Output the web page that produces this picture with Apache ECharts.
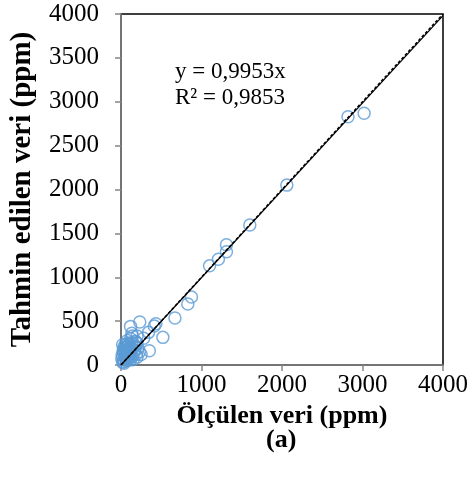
<!DOCTYPE html>
<html lang="tr">
<head>
<meta charset="utf-8">
<script src="https://cdn.jsdelivr.net/npm/echarts@6/dist/echarts.min.js"></script>
<style>
  html, body { margin: 0; padding: 0; background: #fff; }
</style>
</head>
<body>
<div id="main" style="width:473px;height:486px"></div>
<script type="text/javascript">
// ölçülen (x) ve tahmin edilen (y) değerler, ppm
var measured = [20, 30, 40, 50, 60, 70, 80, 90, 100, 110, 120, 130, 140, 150, 160, 170, 180, 190, 200, 210,
    230, 250, 60, 40, 90, 120, 140, 80, 100, 160, 180, 60, 30, 120, 200,
    10, 15, 25, 35, 45, 55, 65, 75, 85, 95, 105, 115, 20, 50, 70, 90, 110, 130,
    119, 135, 200, 233, 282, 180, 343, 413, 433, 352, 520, 670, 830, 875,
    1100, 1210, 1310, 1310, 1600, 2060, 2820, 3020];
var predicted = [30, 60, 20, 90, 120, 50, 150, 180, 80, 200, 140, 250, 100, 60, 220, 170, 270, 120, 90, 190,
    150, 120, 200, 170, 250, 300, 330, 280, 230, 130, 210, 100, 140, 60, 250,
    70, 110, 160, 200, 40, 170, 80, 210, 110, 140, 170, 90, 230, 230, 130, 60, 120, 190,
    440, 361, 330, 490, 304, 266, 372, 444, 471, 163, 315, 535, 695, 775,
    1130, 1205, 1290, 1370, 1595, 2050, 2830, 2868];
var slope = 0.9953;
var xTicks = [0, 1000, 2000, 3000, 4000];
var yTicks = [0, 500, 1000, 1500, 2000, 2500, 3000, 3500, 4000];

var points = [];
for (var i = 0; i < measured.length; i++) {
    points.push([measured[i], predicted[i]]);
}

var serif = '"Liberation Serif", "Times New Roman", serif';
var plain = function (v) { return String(v); };
var myChart = echarts.init(document.getElementById("main"));
var option = {
    animation: false,
    grid: {
        left: 117, right: 30, top: 14, bottom: 121,
        show: true, borderColor: '#000', borderWidth: 1.5
    },
    xAxis: {
        type: 'value',
        min: xTicks[0], max: xTicks[xTicks.length - 1], interval: 1000,
        splitLine: { show: false },
        axisLine: { show: true, lineStyle: { color: '#868686', width: 1.5 } },
        axisTick: { show: true, inside: false, length: 6, lineStyle: { color: '#868686', width: 1.5 } },
        axisLabel: { color: '#000', fontFamily: serif, fontSize: 25, margin: 8, formatter: plain },
        name: 'Ölçülen veri (ppm)',
        nameLocation: 'middle',
        nameGap: 32,
        nameTextStyle: { color: '#000', fontFamily: serif, fontSize: 26, fontWeight: 'bold' }
    },
    yAxis: {
        type: 'value',
        min: yTicks[0], max: yTicks[yTicks.length - 1], interval: 500,
        splitLine: { show: false },
        axisLine: { show: true, lineStyle: { color: '#868686', width: 1.5 } },
        axisTick: { show: true, inside: false, length: 6, lineStyle: { color: '#868686', width: 1.5 } },
        axisLabel: { color: '#000', fontFamily: serif, fontSize: 25, margin: 22, formatter: plain },
        name: 'Tahmin edilen veri (ppm)',
        nameLocation: 'middle',
        nameGap: 84,
        nameTextStyle: { color: '#000', fontFamily: serif, fontSize: 29, fontWeight: 'bold' }
    },
    graphic: [
        { type: 'text', left: 175, top: 60, style: { text: 'y = 0,9953x', font: '23px ' + serif, fill: '#000' } },
        { type: 'text', left: 175, top: 86, style: { text: 'R² = 0,9853', font: '23px ' + serif, fill: '#000' } },
        { type: 'text', left: 266, top: 427, style: { text: '(a)', font: 'bold 26px ' + serif, fill: '#000' } }
    ],
    series: [
        {
            type: 'line',
            data: [[0, 0], [4000, 4000]],
            symbol: 'none',
            lineStyle: { color: '#000', width: 1.5, type: [3, 2] },
            z: 3
        },
        {
            type: 'line',
            data: [[0, 0], [4000, 4000 * slope]],
            symbol: 'none',
            lineStyle: { color: '#000', width: 1.2 },
            z: 4
        },
        {
            type: 'scatter',
            data: points,
            symbol: 'circle',
            symbolSize: 12,
            itemStyle: { color: 'rgba(0,0,0,0)', borderColor: '#5B9BD5', borderWidth: 1.5 },
            z: 2
        }
    ]
};
myChart.setOption(option);
</script>
</body>
</html>
